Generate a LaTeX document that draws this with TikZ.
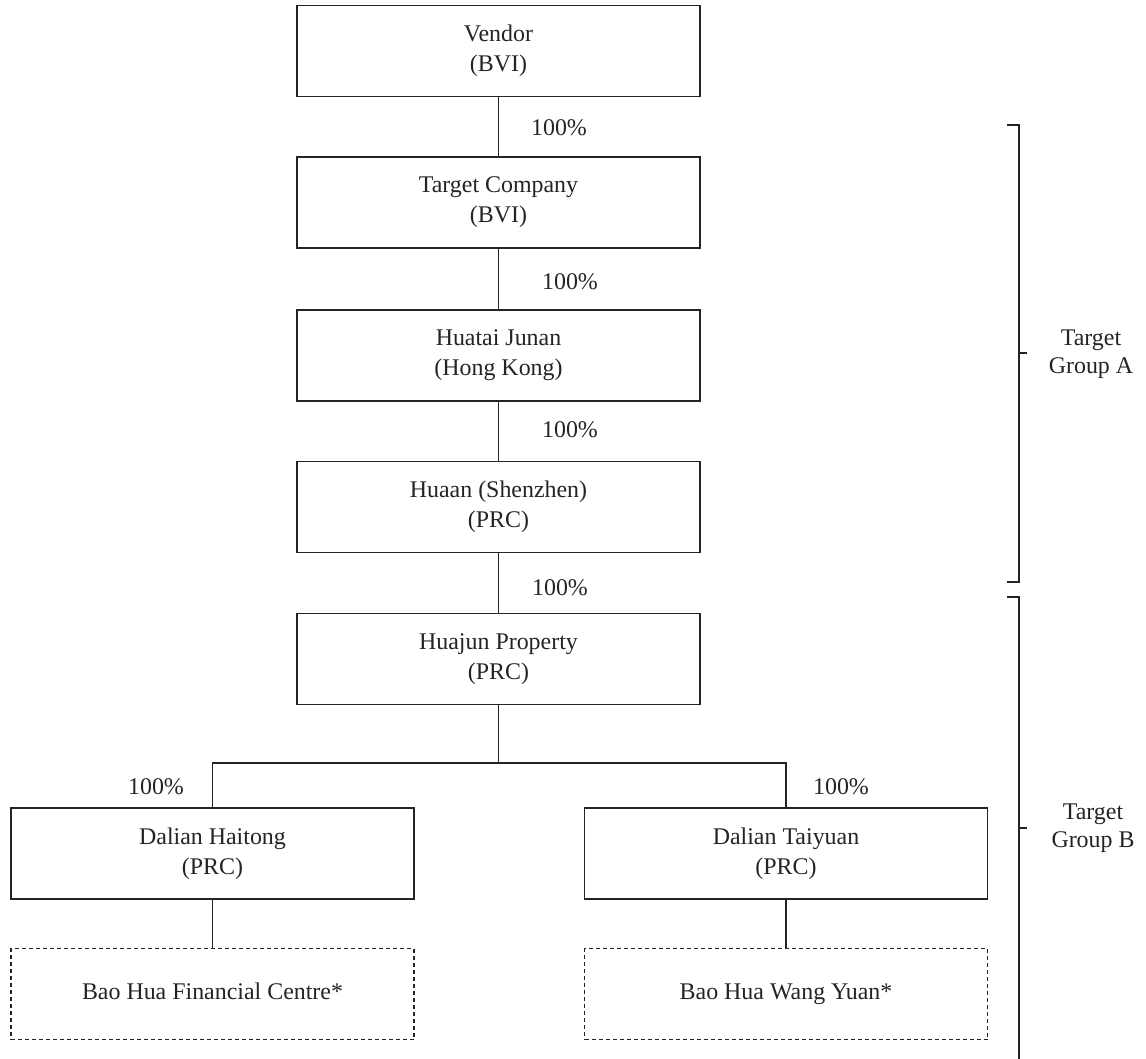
\documentclass[tikz,border=0pt]{standalone}
\usepackage{fontspec}
\setmainfont{Liberation Serif}
\definecolor{ink}{RGB}{40,34,34}
\begin{document}
\begin{tikzpicture}[x=1bp,y=-1bp,
  every node/.style={text=ink},
  ent/.style={draw=ink,line width=1.1bp,minimum width=403bp,minimum height=91bp,inner sep=0pt,align=center,font=\fontsize{24}{30}\selectfont},
  prop/.style={draw=ink,line width=1.1bp,minimum width=403bp,minimum height=91bp,inner sep=0pt,font=\fontsize{24}{30}\selectfont,dash pattern=on 4bp off 3bp},
  pct/.style={font=\fontsize{24}{30}\selectfont},
  grp/.style={align=center,font=\fontsize{24}{28}\selectfont},
  conn/.style={draw=ink,line width=1.1bp}]
\useasboundingbox (0,0) rectangle (1146,1059);
\node[ent] (vendor) at (498.5,51) {Vendor\\(BVI)};
\node[ent] (target) at (498.5,202.5) {Target Company\\(BVI)};
\node[ent] (huatai) at (498.5,355.5) {Huatai Junan\\(Hong Kong)};
\node[ent] (huaan) at (498.5,507) {Huaan (Shenzhen)\\(PRC)};
\node[ent] (huajun) at (498.5,659) {Huajun Property\\(PRC)};
\node[ent] (haitong) at (212.5,853.5) {Dalian Haitong\\(PRC)};
\node[ent] (taiyuan) at (786,853.5) {Dalian Taiyuan\\(PRC)};
\node[prop] (bhfc) at (212.5,994) {\strut Bao Hua Financial Centre*};
\node[prop] (bhwy) at (786,994) {\strut Bao Hua Wang Yuan*};
\draw[conn] (vendor) -- (target);
\draw[conn] (target) -- (huatai);
\draw[conn] (huatai) -- (huaan);
\draw[conn] (huaan) -- (huajun);
\coordinate (split) at (498.5,763);
\draw[conn] (huajun.south) -- (split);
\draw[conn] (split) -| (haitong.north);
\draw[conn] (split) -| (taiyuan.north);
\draw[conn] (haitong) -- (bhfc);
\draw[conn] (taiyuan) -- (bhwy);
\node[pct] (p1) at (559,128) {100\%};
\node[pct] (p2) at (570,282) {100\%};
\node[pct] (p3) at (570,430) {100\%};
\node[pct] (p4) at (560,588) {100\%};
\node[pct] (p5) at (156,787) {100\%};
\node[pct] (p6) at (841,787) {100\%};
% brackets
\coordinate (a1) at (1007,125);
\coordinate (a2) at (1019,125);
\coordinate (a3) at (1019,582);
\coordinate (a4) at (1007,582);
\coordinate (am) at (1019,353);
\coordinate (at) at (1027,353);
\draw[conn] (a1) -- (a2) -- (a3) -- (a4);
\draw[conn] (am) -- (at);
\node[grp] (ga) at (1091,354) {Target\\Group A};
\coordinate (b1) at (1007,597);
\coordinate (b2) at (1019,597);
\coordinate (b3) at (1019,1059);
\coordinate (bm) at (1019,828);
\coordinate (bt) at (1027,828);
\draw[conn] (b1) -- (b2) -- (b3);
\draw[conn] (bm) -- (bt);
\node[grp] (gb) at (1093,828) {Target\\Group B};
\end{tikzpicture}
\end{document}
